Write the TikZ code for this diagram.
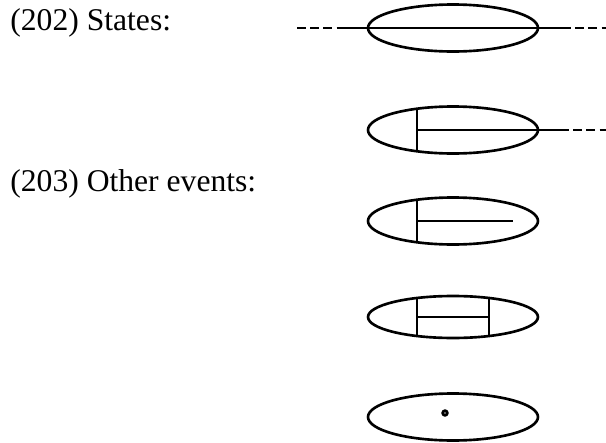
\documentclass[tikz,border=0pt]{standalone}
\usepackage{fontspec}
\setmainfont{Liberation Serif}
\usetikzlibrary{calc,shapes.geometric}
\tikzset{
  main/.style={line width=1.5pt},
  trace/.style={line width=1.5pt,dash pattern=on 5pt off 2.5pt},
  evt/.style={ellipse,draw,line width=1.5pt,minimum width=3.4cm,minimum height=0.94cm,inner sep=0pt},
  mark0/.style={circle,draw,line width=1.6pt,minimum size=0.09cm,inner sep=0pt},
  lbl/.style={font=\fontsize{18}{22}\selectfont,anchor=base west,inner sep=0pt},
}
\begin{document}
\begin{tikzpicture}[x=0.02cm,y=-0.02cm]
    \useasboundingbox (0,0) rectangle (606,443);
    \node[lbl] (t1) at (10,30) {(202) States:};
    \node[lbl] (t2) at (10,191) {(203) Other events:};
    % states
    \node[evt] (s1) at (453,28) {};
    \coordinate (a1) at (297,28);
    \coordinate (b1) at (345,28);
    \coordinate (c1) at (562,28);
    \coordinate (d1) at (606,28);
    \draw[trace] (a1) -- (b1);
    \draw[main] (b1) -- (s1.west) -- (s1.east) -- (c1);
    \draw[trace] (c1) -- (d1);
    \node[evt] (s2) at (453,130) {};
    \coordinate (c2) at (560,130);
    \coordinate (d2) at (606,130);
    \draw[main] ($(s2)+(-36,-22)$) -- ($(s2)+(-36,22)$);
    \draw[main] ($(s2)+(-36,0)$) -- (s2.east) -- (c2);
    \draw[trace] (c2) -- (d2);
    % other events
    \node[evt] (e1) at (453,221) {};
    \draw[main] ($(e1)+(-36,-22)$) -- ($(e1)+(-36,22)$);
    \draw[main] ($(e1)+(-36,0)$) -- ($(e1)+(60,0)$);
    \node[evt,minimum height=0.84cm] (e2) at (453,317) {};
    \draw[main] ($(e2)+(-36,-20)$) -- ($(e2)+(-36,20)$);
    \draw[main] ($(e2)+(36,-20)$) -- ($(e2)+(36,20)$);
    \draw[main] ($(e2)+(-36,0)$) -- ($(e2)+(36,0)$);
    \node[evt] (e3) at (453,417) {};
    \node[mark0] (p3) at (445,413) {};
\end{tikzpicture}
\end{document}
